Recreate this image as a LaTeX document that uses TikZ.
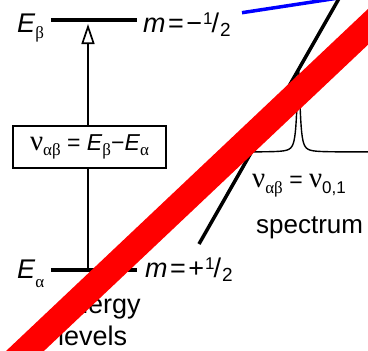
\documentclass[tikz,border=0pt]{standalone}
\usepackage{fontspec}
\setmainfont{Liberation Sans}
\newfontfamily\grk{Liberation Serif}
\usetikzlibrary{arrows.meta, positioning}

\newcommand{\grsub}[3][17]{\raisebox{-#2pt}{\fontsize{#1}{#1}\selectfont\grk #3}}
\newcommand{\half}{\kern1pt\raisebox{8pt}{\fontsize{17}{17}\selectfont 1}\kern-1pt/\kern1pt\raisebox{-4pt}{\fontsize{19}{19}\selectfont 2}}
\newcommand{\bignu}{{\grk\fontsize{29}{29}\selectfont ν}}
\newcommand{\eq}{\kern2.5pt=\kern2.5pt}

\begin{document}
\begin{tikzpicture}[
    x=1pt, y=-1pt,
    lvl/.style={line width=4pt},
    lbl/.style={anchor=base west, inner sep=0pt, font=\fontsize{27}{27}\selectfont},
    trans/.style={line width=1.7pt, -{Triangle[open, length=20pt, width=13pt]}},
    eqbox/.style={draw, line width=1.8pt, fill=white, inner sep=0pt,
      minimum width=153pt, minimum height=42pt, font=\fontsize{23}{23}\selectfont},
    spec/.style={line width=1.4pt}
  ]
    \useasboundingbox (0,0) rectangle (368,351);
    \clip (0,0) rectangle (368,351);

    \draw[lvl] (51,20) coordinate (bL) -- (137,20) coordinate (bR);
    \draw[lvl] (51,270) coordinate (aL) -- (137,270) coordinate (aR);
    \node[lbl] (Eb) at (17,32) {\textit{E}\grsub{6}{β}};
    \node[lbl] (mb) at (143,32) {\textit{m}\eq−\half};
    \node[lbl] (Ea) at (17,278) {\textit{E}\grsub{9}{α}};
    \node[lbl] (ma) at (145,277) {\textit{m}\eq+\half};

    \coordinate (lo) at (88,270);
    \coordinate (hi) at (88,24);
    \draw[trans] (lo) -- (hi);
    \node[eqbox] (eq) at (89.5,147)
      {\bignu\grsub{5}{αβ} = \textit{E}\grsub{5}{β}−\textit{E}\grsub{5}{α}};

    \node[lbl] (en) at (58,313) {energy};
    \node[lbl] (lv) at ([yshift=-32pt]en.base west) {levels};

    \draw[spec] plot[domain=240:368, samples=600]
      (\x, {152-82*3.24/((\x-298.5)^2+3.24)});
    \node[lbl, font=\fontsize{23}{23}\selectfont] (nu) at (252,187)
      {\bignu\grsub{6}{αβ} = \bignu\raisebox{-6pt}{\fontsize{17}{17}\selectfont 0,1}};
    \node[lbl, font=\fontsize{26}{26}\selectfont] (sp) at (256,233) {spectrum};

    \draw[blue, line width=3.5pt] (242,12.7) -- (370,-6.8);
    \draw[line width=3.5pt] (199,244) -- (345,-12);
    \draw[red, line width=26pt] (-20,393.5) -- (400,-3.4);
  \end{tikzpicture}
\end{document}
